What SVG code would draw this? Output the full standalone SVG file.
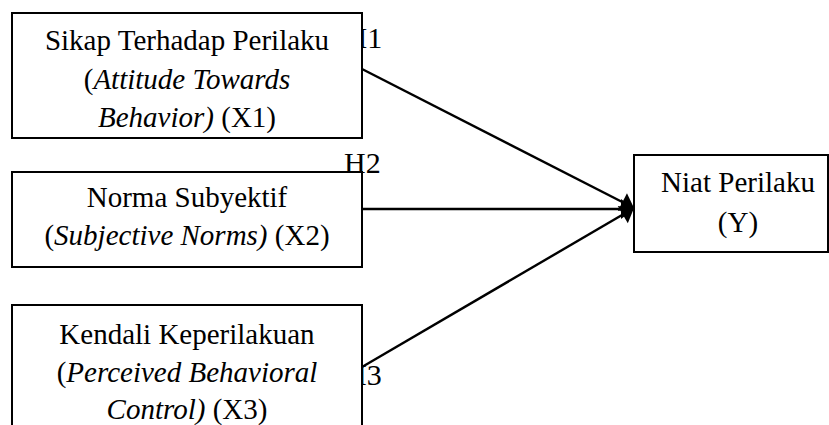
<svg xmlns="http://www.w3.org/2000/svg" width="829" height="425" viewBox="0 0 829 425">
  <style>
    .box { fill: #ffffff; stroke: #000000; stroke-width: 2; }
    .t { font-family: "Liberation Serif", "Times New Roman", serif; font-size: 29px; fill: #000000; text-anchor: middle; }
    .lbl { font-family: "Liberation Serif", "Times New Roman", serif; font-size: 30px; fill: #000000; }
    .i { font-style: italic; }
    .conn { stroke: #000000; stroke-width: 2.4; fill: none; marker-end: url(#arr); }
  </style>
  <defs>
    <marker id="arr" markerUnits="userSpaceOnUse" markerWidth="15" markerHeight="22" refX="13" refY="10" orient="auto" overflow="visible">
      <path d="M0,0 L13,10 L0,20 Z" fill="#000000"/>
    </marker>
  </defs>
  <rect x="0" y="0" width="829" height="425" fill="#ffffff"/>
  <g id="labels">
    <text class="lbl" x="345.5" y="47.5">H1</text>
    <text class="lbl" x="344" y="173">H2</text>
    <text class="lbl" x="345" y="385">H3</text>
  </g>
  <g id="connectors">
    <line class="conn" x1="362" y1="69" x2="634" y2="208"/>
    <line class="conn" x1="362" y1="209" x2="634" y2="209"/>
    <line class="conn" x1="362" y1="367" x2="634" y2="208"/>
  </g>
  <g id="x1">
    <rect class="box" x="12" y="13" width="350" height="125"/>
    <text class="t" x="187" y="50">Sikap Terhadap Perilaku</text>
    <text class="t" x="187" y="88.5">(<tspan class="i">Attitude Towards</tspan></text>
    <text class="t" x="187" y="127"><tspan class="i">Behavior)</tspan> (X1)</text>
  </g>
  <g id="x2">
    <rect class="box" x="12" y="172" width="350" height="95"/>
    <text class="t" x="187" y="207">Norma Subyektif</text>
    <text class="t" x="187" y="244.5">(<tspan class="i">Subjective Norms)</tspan> (X2)</text>
  </g>
  <g id="x3">
    <rect class="box" x="12" y="305" width="350" height="140"/>
    <text class="t" x="187" y="343.5">Kendali Keperilakuan</text>
    <text class="t" x="187" y="381.5">(<tspan class="i">Perceived Behavioral</tspan></text>
    <text class="t" x="187" y="418.5"><tspan class="i">Control)</tspan> (X3)</text>
  </g>
  <g id="y">
    <rect class="box" x="634" y="155" width="194" height="97"/>
    <text class="t" x="738" y="191.5">Niat Perilaku</text>
    <text class="t" x="738" y="231.5">(Y)</text>
  </g>
</svg>
